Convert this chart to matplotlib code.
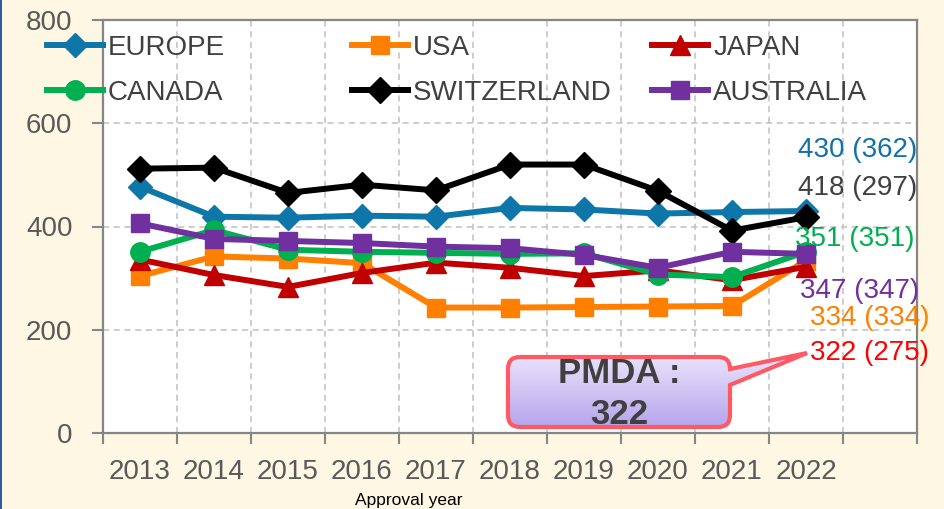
import matplotlib
matplotlib.use("Agg")
import matplotlib.pyplot as plt
import numpy as np
from matplotlib.patches import Rectangle, PathPatch
from matplotlib.path import Path
from matplotlib.transforms import IdentityTransform

# ---------------- data ----------------
years = ["2013", "2014", "2015", "2016", "2017", "2018", "2019", "2020", "2021", "2022"]
europe = [477, 419, 417, 421, 419, 436, 433, 425, 428, 430]
usa = [304, 342, 338, 329, 243, 243, 244, 245, 246, 334]
japan = [336, 306, 283, 310, 330, 320, 304, 315, 296, 322]
canada = [351, 393, 355, 351, 349, 347, 348, 307, 302, 351]
switzerland = [512, 514, 465, 481, 470, 520, 520, 469, 392, 418]
australia = [406, 376, 372, 368, 361, 358, 345, 320, 351, 347]

series_names = ["EUROPE", "USA", "JAPAN", "CANADA", "SWITZERLAND", "AUSTRALIA"]
end_labels = ["430 (362)", "334 (334)", "322 (275)", "351 (351)", "418 (297)", "347 (347)"]
callout_text = "PMDA :\n322"
xlabel = "Approval year"
yticks = [0, 200, 400, 600, 800]

# ---------------- styles ----------------
colors = ["#0E76A8", "#FF8000", "#C00000", "#00B050", "#000000", "#7030A0"]
markers = ["D", "s", "^", "o", "D", "s"]
msizes = [12, 13, 14, 14, 13, 13]
label_colors = ["#1272A6", "#FF8000", "#FF0000", "#00B050", "#404040", "#7030A0"]
# label positions (data coords: x, y), left-aligned
label_pos = [(8.89, 548), (9.05, 223), (9.05, 155), (8.85, 376), (8.89, 474), (8.92, 275)]

FONT = "Liberation Sans"
plt.rcParams["font.family"] = [FONT, "DejaVu Sans"]

W, H = 945, 509
fig = plt.figure(figsize=(W / 100, H / 100), dpi=100)
fig.patch.set_facecolor("#FDF7E3")

ax = fig.add_axes([103 / W, 1 - 433 / H, (917 - 103) / W, (433 - 20) / H])
ax.set_facecolor("white")

data = [europe, usa, japan, canada, switzerland, australia]
x = np.arange(len(years))
handles = []
for vals, name, c, m, ms in zip(data, series_names, colors, markers, msizes):
    h, = ax.plot(x, vals, color=c, lw=4.3, marker=m, markersize=ms,
                 markeredgecolor=c, markerfacecolor=c, label=name, zorder=3,
                 solid_joinstyle="round")
    handles.append(h)

ax.set_xlim(-0.5, 10.5)
ax.set_ylim(0, 800)

grey = "#868686"
ax.set_xticks(np.arange(-0.5, 10.6, 1.0))
ax.set_xticklabels([])
ax.set_xticks(x, minor=True)
ax.set_xticklabels(years, minor=True)
ax.tick_params(axis="x", which="minor", length=0, pad=19, labelsize=20, labelcolor="#595959")
ax.tick_params(axis="x", which="major", length=8, width=1.5, color=grey, direction="out")
ax.set_yticks(yticks)
ax.tick_params(axis="y", length=8, width=1.5, color=grey, direction="out", pad=14,
               labelsize=20, labelcolor="#595959")
for s in ax.spines.values():
    s.set_color(grey)
    s.set_linewidth(1.6)

ax.grid(True, which="major", axis="both", color="#C0C0C0", linestyle=(0, (4, 3)), lw=1.1)
ax.set_axisbelow(True)

# end labels
for (lx, ly), txt, c in zip(label_pos, end_labels, label_colors):
    ax.text(lx, ly, txt, color=c, fontsize=20, ha="left", va="center", clip_on=False, zorder=5)

# legends (three columns)
cols = [(0, 3), (1, 4), (2, 5)]
col_x = [47, 352, 652]
for (a, b), cx in zip(cols, col_x):
    leg = fig.legend([handles[a], handles[b]], [series_names[a], series_names[b]],
                     loc="upper left", bbox_to_anchor=(cx / W, 1 - 35 / H),
                     frameon=False, fontsize=20, handlelength=2.0, handletextpad=0.2,
                     labelspacing=0.68, borderpad=0, borderaxespad=0)
    for t in leg.get_texts():
        t.set_color("#404040")

# callout (pixel coordinates, origin top-left converted)
def P(px, py):
    return (px, H - py)

x0, x1, y0, y1 = 508, 730, 357, 427
r = 12
tip = (807, 353)
verts = [
    P(x0 + r, y0), P(x1 - r, y0), P(x1, y0), P(x1, y0 + r),
    P(x1, 369), P(*tip), P(x1, 385),
    P(x1, y1 - r), P(x1, y1), P(x1 - r, y1),
    P(x0 + r, y1), P(x0, y1), P(x0, y1 - r),
    P(x0, y0 + r), P(x0, y0), P(x0 + r, y0),
]
codes = [Path.MOVETO, Path.LINETO, Path.CURVE3, Path.CURVE3,
         Path.LINETO, Path.LINETO, Path.LINETO,
         Path.LINETO, Path.CURVE3, Path.CURVE3,
         Path.LINETO, Path.CURVE3, Path.CURVE3,
         Path.LINETO, Path.CURVE3, Path.CURVE3]
path = Path(verts, codes)
patch = PathPatch(path, transform=IdentityTransform(), facecolor="none",
                  edgecolor="#FF5A64", lw=3, zorder=8)
fig.add_artist(patch)

# gradient fill
grad_ax = fig.add_axes([x0 / W, 1 - y1 / H, (tip[0] - x0) / W, (y1 - y0) / H])
grad_ax.set_axis_off()
gcols = np.array([[0xE8, 0xE2, 0xFB], [0xB6, 0xA5, 0xEC]]) / 255.0
tt = np.linspace(0, 1, 100)[:, None]
img = (gcols[0] * (1 - tt) + gcols[1] * tt)[:, None, :]
im = grad_ax.imshow(img, aspect="auto", extent=[0, 1, 0, 1], origin="upper", zorder=1)
fill_patch = PathPatch(path, transform=IdentityTransform(), facecolor="none", edgecolor="none")
fig.add_artist(fill_patch)
fill_patch.set_visible(False)
im.set_clip_path(fill_patch)
grad_ax.set_zorder(6)

fig.text(619 / W, 1 - 394 / H, callout_text, ha="center", va="center", fontsize=25,
         fontweight="bold", color="#404040", linespacing=1.3, zorder=9)

# x label
fig.text(409 / W, 1 - 508 / H, xlabel, ha="center", va="bottom", fontsize=12.5, color="black")

# left blue border
fig.add_artist(Rectangle((0, 0), 2.5 / W, 1, transform=fig.transFigure,
                         facecolor="#2E5C9E", edgecolor="none"))

fig.savefig("out.png", dpi=100, facecolor=fig.get_facecolor())
